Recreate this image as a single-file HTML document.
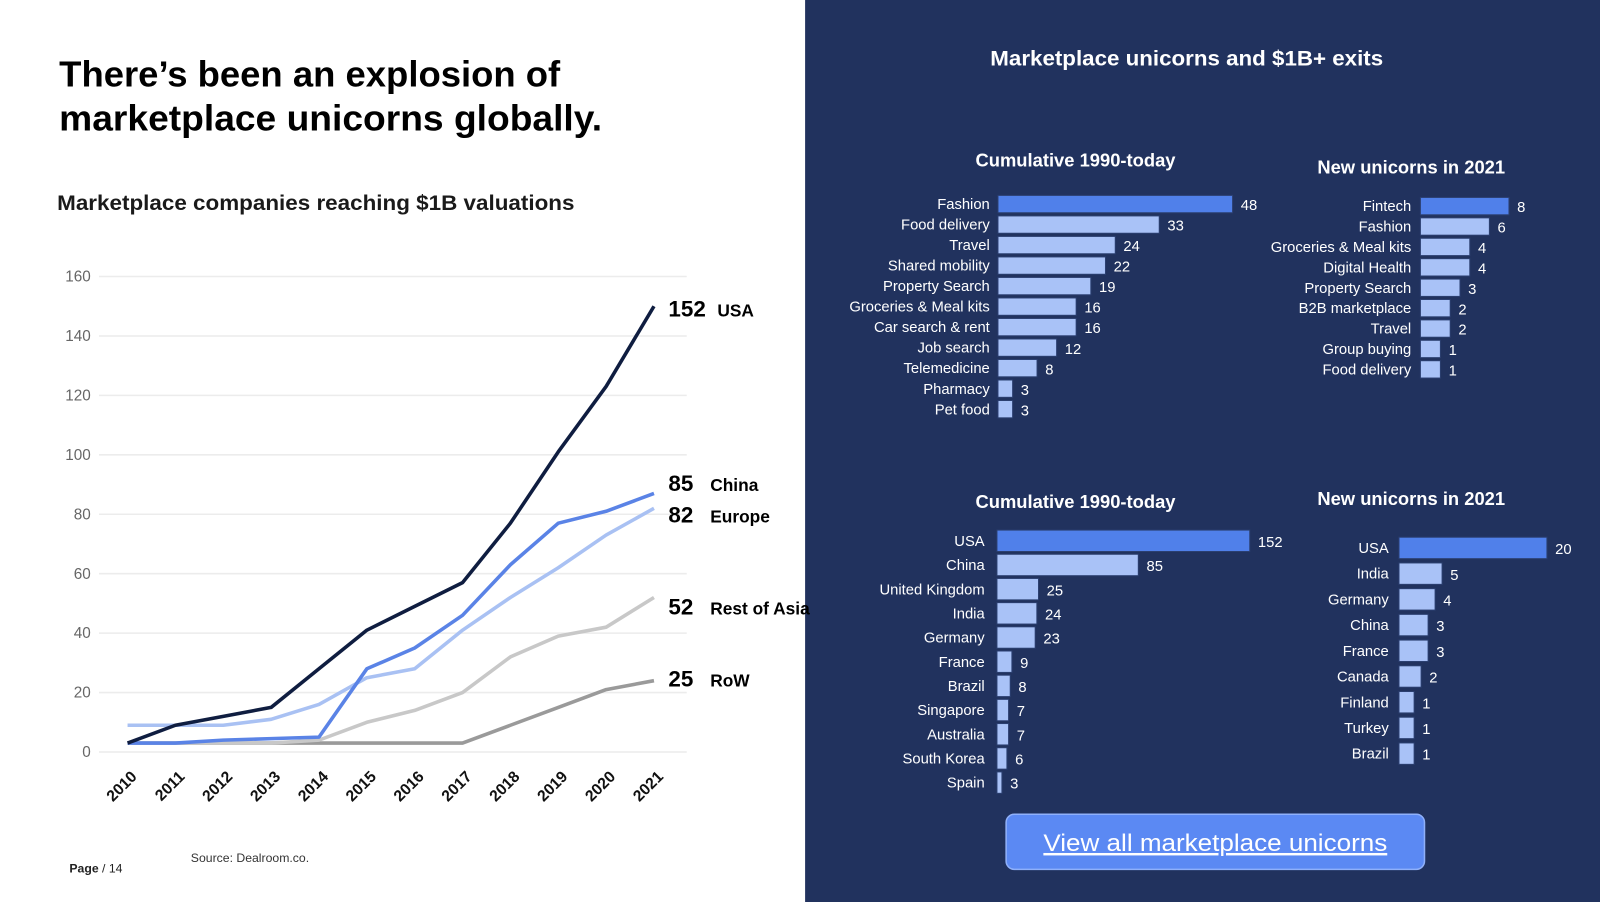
<!DOCTYPE html>
<html><head><meta charset="utf-8"><style>
html,body{margin:0;padding:0;background:#fff;overflow:hidden}
svg{display:block}
text{font-family:"Liberation Sans",sans-serif}
</style></head><body>
<svg id="root" width="1600" height="902" viewBox="0 0 1568 884" preserveAspectRatio="none" xmlns="http://www.w3.org/2000/svg">
<rect x="0" y="0" width="1568" height="884" fill="#ffffff"/>
<rect x="789" y="0" width="779" height="884" fill="#21325e"/>
<text x="58" y="85" font-size="35" font-weight="bold" fill="#000" textLength="491" lengthAdjust="spacingAndGlyphs">There’s been an explosion of</text>
<text x="58" y="128" font-size="35" font-weight="bold" fill="#000" textLength="532" lengthAdjust="spacingAndGlyphs">marketplace unicorns globally.</text>
<text x="56" y="206" font-size="21" font-weight="bold" fill="#1a1a1a" textLength="507" lengthAdjust="spacingAndGlyphs">Marketplace companies reaching $1B valuations</text>
<g id="line-chart"></g>
<text x="68" y="855" font-size="12" fill="#222"><tspan font-weight="bold">Page</tspan> / 14</text>
<text x="187" y="845" font-size="12" fill="#333">Source: Dealroom.co.</text>
<text x="1163" y="64" text-anchor="middle" font-size="21" font-weight="bold" fill="#fff" textLength="385" lengthAdjust="spacingAndGlyphs">Marketplace unicorns and $1B+ exits</text>
<g id="bars"></g>
<rect x="986" y="798" width="410" height="54" rx="8" fill="#5b89f3" stroke="#8fb0fa" stroke-width="1.5"/>
<text x="1191" y="834" text-anchor="middle" font-size="24" fill="#fff" text-decoration="underline" textLength="337" lengthAdjust="spacingAndGlyphs">View all marketplace unicorns</text>
</svg>
<script>
const years = ["2010","2011","2012","2013","2014","2015","2016","2017","2018","2019","2020","2021"];
const yTicks = [0,20,40,60,80,100,120,140,160];
const usa = [3,9,12,15,28,41,49,57,77,101,123,150];
const china = [3,3,4,4.5,5,28,35,46,63,77,81,87];
const europe = [9,9,9,11,16,25,28,41,52,62,73,82];
const restOfAsia = [3,3,3,3,4,10,14,20,32,39,42,52];
const row = [3,3,3,3,3,3,3,3,9,15,21,24];
const endValues = ["152","85","82","52","25"];
const endNames = ["USA","China","Europe","Rest of Asia","RoW"];

const tlCats = ["Fashion","Food delivery","Travel","Shared mobility","Property Search","Groceries & Meal kits","Car search & rent","Job search","Telemedicine","Pharmacy","Pet food"];
const tlVals = [48,33,24,22,19,16,16,12,8,3,3];
const trCats = ["Fintech","Fashion","Groceries & Meal kits","Digital Health","Property Search","B2B marketplace","Travel","Group buying","Food delivery"];
const trVals = [8,6,4,4,3,2,2,1,1];
const blCats = ["USA","China","United Kingdom","India","Germany","France","Brazil","Singapore","Australia","South Korea","Spain"];
const blVals = [152,85,25,24,23,9,8,7,7,6,3];
const brCats = ["USA","India","Germany","China","France","Canada","Finland","Turkey","Brazil"];
const brVals = [20,5,4,3,3,2,1,1,1];

const NS = "http://www.w3.org/2000/svg";
function mk(tag, attrs, parent){const e=document.createElementNS(NS,tag);for(const k in attrs)e.setAttribute(k,attrs[k]);parent.appendChild(e);return e;}

const lc = document.getElementById("line-chart");
const xPos = i => 125 + i*46.9;
const yPos = v => 737 - v*2.9125;
yTicks.forEach(t=>{
  const g = mk("line",{x1:97,x2:673,y1:yPos(t),y2:yPos(t),stroke:"#ececec","stroke-width":1.5},lc);
  
  
  const tx = mk("text",{x:89,y:yPos(t)+5,"text-anchor":"end","font-size":15,fill:"#666"},lc);
  tx.textContent = t;
  
  
});
years.forEach((yr,i)=>{
  const tx = mk("text",{x:0,y:0,"text-anchor":"end","font-size":15.5,"font-weight":"bold",fill:"#111",transform:`translate(${xPos(i)+10},${762}) rotate(-45)`},lc);
  tx.textContent = yr;
  
  
});
const seriesList = [[row,"#9a9a9a","row"],[restOfAsia,"#c8c8c8","rest-of-asia"],[europe,"#a9c1f3","europe"],[china,"#5a83e6","china"],[usa,"#0f1d40","usa"]];
seriesList.forEach(s=>{
  const pts = s[0].map((v,i)=>xPos(i)+","+yPos(v)).join(" ");
  const p = mk("polyline",{points:pts,fill:"none",stroke:s[1],"stroke-width":3.5,"stroke-linejoin":"round"},lc);
  
  
});
const labelY = [302,473,504,594,665];
const nameX = [703,696,696,696,696];
endValues.forEach((v,i)=>{
  const t1 = mk("text",{x:655,y:labelY[i]+8,"font-size":22,"font-weight":"bold",fill:"#000"},lc);
  t1.textContent = v;
  
  
  const t2 = mk("text",{x:nameX[i],y:labelY[i]+8,"font-size":17,"font-weight":"bold",fill:"#000"},lc);
  t2.textContent = endNames[i];
  
  
});

const bg = document.getElementById("bars");
function drawBars(name, title, titleX, titleY, cats, vals, x0, base, unit, y0, step, h, labelX, fs){
  const tt = mk("text",{x:titleX,y:titleY+6,"text-anchor":"middle","font-size":18,"font-weight":"bold",fill:"#fff"},bg);
  tt.textContent = title;
  
  
  cats.forEach((c,i)=>{
    const cy = y0 + i*step;
    const w = base + vals[i]*unit;
    const r = mk("rect",{x:x0,y:cy-h/2,width:w,height:h,fill:i===0?"#5080ea":"#a9c2f7",stroke:"#2b3f70","stroke-width":1},bg);
    
    
    const l = mk("text",{x:labelX,y:cy+5,"text-anchor":"end","font-size":fs,fill:"#fff"},bg);
    l.textContent = c;
    
    
    const v = mk("text",{x:x0+w+8,y:cy+6,"font-size":fs,fill:"#fff"},bg);
    v.textContent = vals[i];
    
    
  });
}
drawBars("cumulative-sector","Cumulative 1990-today",1054,157,tlCats,tlVals,978,0,4.79,200,20.1,17,970,14.5);
drawBars("new-sector","New unicorns in 2021",1383,164,trCats,trVals,1392,10,9.6,202,20,17,1383,14.5);
drawBars("cumulative-country","Cumulative 1990-today",1054,492,blCats,blVals,977,0,1.63,530,23.7,21,965,14.5);
drawBars("new-country","New unicorns in 2021",1383,489,brCats,brVals,1371,8,6.85,537,25.2,21,1361,14.5);
</script>
</body></html>
